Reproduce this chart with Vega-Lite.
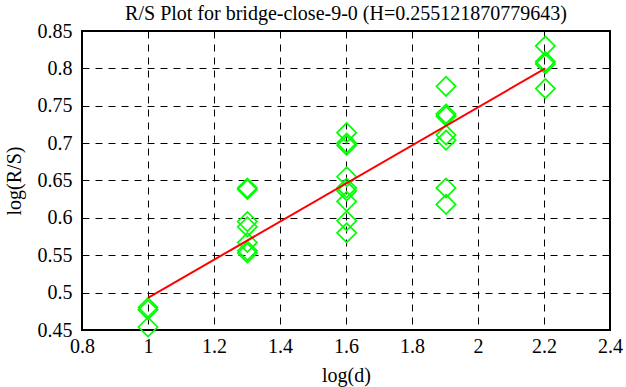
{
  "$schema": "https://vega.github.io/schema/vega-lite/v6.json",
  "width": 528,
  "height": 299,
  "autosize": {"type": "none"},
  "padding": {"left": 82, "top": 31, "right": 16, "bottom": 57},
  "background": "white",
  "config": {
    "font": "Liberation Serif",
    "style": {"guide-label": {"font": "Liberation Serif", "fontSize": 20, "fill": "black"}, "guide-title": {"font": "Liberation Serif", "fontSize": 20}},
    "view": {"stroke": "black", "strokeWidth": 2},
    "axis": {
      "labelFont": "Liberation Serif",
      "titleFont": "Liberation Serif",
      "labelFontSize": 20,
      "titleFontSize": 20,
      "titleFontWeight": "normal",
      "labelColor": "black",
      "titleColor": "black",
      "labelOverlap": false,
      "domain": false,
      "ticks": false,
      "grid": true,
      "gridColor": "black",
      "gridOpacity": 1,
      "gridWidth": 1,
      "gridDash": [7, 6]
    }
  },
  "title": {
    "text": "R/S Plot for bridge-close-9-0 (H=0.255121870779643)",
    "font": "Liberation Serif",
    "fontSize": 20,
    "fontWeight": "normal",
    "color": "black",
    "offset": -3
  },
  "datasets": {
    "pts": [
      {"d": 1.0, "rs": 0.480},
      {"d": 1.0, "rs": 0.477},
      {"d": 1.0, "rs": 0.454},
      {"d": 1.30103, "rs": 0.640},
      {"d": 1.30103, "rs": 0.638},
      {"d": 1.30103, "rs": 0.595},
      {"d": 1.30103, "rs": 0.588},
      {"d": 1.30103, "rs": 0.567},
      {"d": 1.30103, "rs": 0.556},
      {"d": 1.30103, "rs": 0.553},
      {"d": 1.60206, "rs": 0.714},
      {"d": 1.60206, "rs": 0.700},
      {"d": 1.60206, "rs": 0.697},
      {"d": 1.60206, "rs": 0.655},
      {"d": 1.60206, "rs": 0.640},
      {"d": 1.60206, "rs": 0.636},
      {"d": 1.60206, "rs": 0.622},
      {"d": 1.60206, "rs": 0.596},
      {"d": 1.60206, "rs": 0.580},
      {"d": 1.90309, "rs": 0.776},
      {"d": 1.90309, "rs": 0.739},
      {"d": 1.90309, "rs": 0.736},
      {"d": 1.90309, "rs": 0.711},
      {"d": 1.90309, "rs": 0.704},
      {"d": 1.90309, "rs": 0.640},
      {"d": 1.90309, "rs": 0.618},
      {"d": 2.20412, "rs": 0.830},
      {"d": 2.20412, "rs": 0.809},
      {"d": 2.20412, "rs": 0.806},
      {"d": 2.20412, "rs": 0.773}
    ],
    "fit": [
      {"d": 1.0, "rs": 0.493},
      {"d": 2.20412, "rs": 0.800}
    ]
  },
  "encoding": {
    "x": {"field": "d", "type": "quantitative", "scale": {"domain": [0.8, 2.4], "nice": false, "zero": false}, "axis": {"values": [0.8, 1, 1.2, 1.4, 1.6, 1.8, 2, 2.2, 2.4], "format": "~g", "labelFont": "Liberation Serif", "title": "log(d)", "labelPadding": 6, "titlePadding": 9, "labelFlush": false}},
    "y": {"field": "rs", "type": "quantitative", "scale": {"domain": [0.45, 0.85], "nice": false, "zero": false}, "axis": {"values": [0.45, 0.5, 0.55, 0.6, 0.65, 0.7, 0.75, 0.8, 0.85], "format": "~g", "labelFont": "Liberation Serif", "title": "log(R/S)", "labelPadding": 10, "titlePadding": 13, "labelFlush": false}}
  },
  "layer": [
    {
      "data": {"name": "pts"},
      "mark": {"type": "point", "shape": "diamond", "filled": false, "color": "#00ff00", "size": 370, "strokeWidth": 1.7, "opacity": 1}
    },
    {
      "data": {"name": "fit"},
      "mark": {"type": "line", "color": "#ff0000", "strokeWidth": 2}
    }
  ]
}
